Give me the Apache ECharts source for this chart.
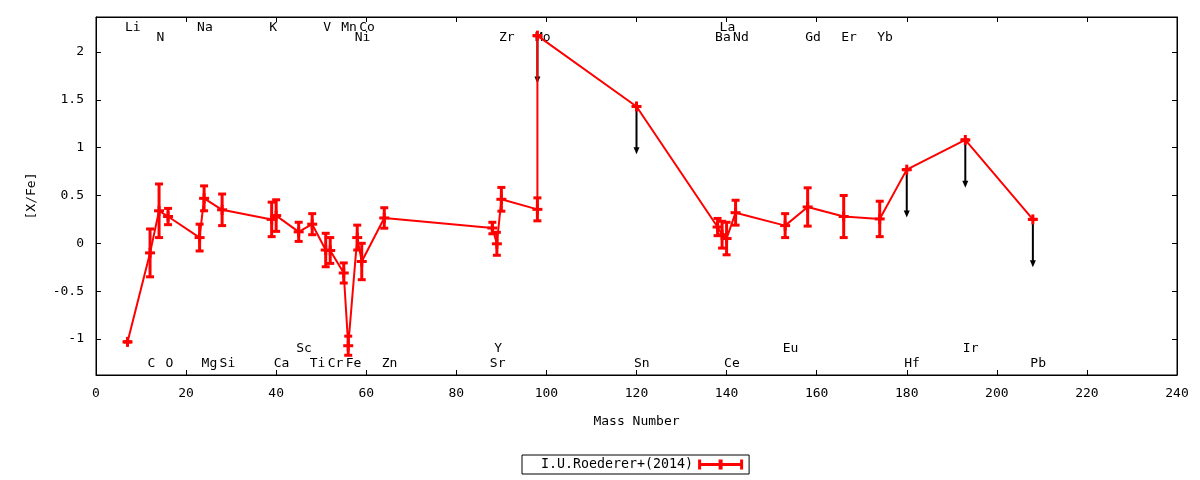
<!DOCTYPE html>
<html>
<head>
<meta charset="utf-8">
<script src="https://cdn.jsdelivr.net/npm/echarts@6/dist/echarts.min.js"></script>
<style>
    html, body { margin: 0; padding: 0; background: #fff; }
    #chart-container { width: 1200px; height: 480px; }
</style>
</head>
<body>
<div id="chart-container"></div>
<script>
// abundances in mass order, the connecting line follows this order
var elements = ['Li', 'C', 'N', 'O', 'Na', 'Mg', 'Si', 'K', 'Ca', 'Sc', 'Ti', 'V', 'Cr', 'Mn', 'Fe', 'Ni', 'Co', 'Zn',
    'Sr', 'Y', 'Zr', 'Mo', 'Mo', 'Sn', 'Ba', 'La', 'Ce', 'Nd', 'Eu', 'Gd', 'Er', 'Yb', 'Hf', 'Ir', 'Pb'];
var massNumber = [7, 12, 14, 16, 23, 24, 28, 39, 40, 45, 48, 51, 52, 55, 56, 58, 59, 64,
    88, 89, 90, 98, 98, 120, 138, 139, 140, 142, 153, 158, 166, 174, 180, 193, 208];
var xFe = [-1.03, -0.10, 0.34, 0.28, 0.06, 0.47, 0.35, 0.25, 0.29, 0.12, 0.20, -0.07, -0.075, -0.31, -1.07, 0.06, -0.19, 0.265,
    0.16, -0.005, 0.46, 0.355, 2.17, 1.43, 0.17, 0.09, 0.05, 0.32, 0.185, 0.38, 0.28, 0.255, 0.77, 1.08, 0.25];
var xFeErr = [0, 0.25, 0.28, 0.085, 0.14, 0.13, 0.165, 0.18, 0.165, 0.10, 0.11, 0.175, 0.135, 0.105, 0.10, 0.13, 0.19, 0.107,
    0.06, 0.12, 0.124, 0.12, 0, 0, 0.09, 0.14, 0.17, 0.13, 0.125, 0.20, 0.22, 0.185, 0, 0, 0];
var upperLimit = [0, 0, 0, 0, 0, 0, 0, 0, 0, 0, 0, 0, 0, 0, 0, 0, 0, 0,
    0, 0, 0, 0, 1, 1, 0, 0, 0, 0, 0, 0, 0, 0, 1, 1, 1];

// element name labels along top and bottom of the frame
var labelNames = ['Li', 'Na', 'K', 'V', 'Mn', 'Co', 'La',
    'N', 'Ni', 'Zr', 'Mo', 'Ba', 'Nd', 'Gd', 'Er', 'Yb',
    'Sc', 'Y', 'Eu', 'Ir',
    'C', 'O', 'Mg', 'Si', 'Ca', 'Ti', 'Cr', 'Fe', 'Zn', 'Sr', 'Sn', 'Ce', 'Hf', 'Pb'];
var labelMass = [7, 23, 39, 51, 55, 59, 139,
    14, 58, 90, 98, 138, 142, 158, 166, 174,
    45, 89, 153, 193,
    12, 16, 24, 28, 40, 48, 52, 56, 64, 88, 120, 140, 180, 208];
var labelRow = [0, 0, 0, 0, 0, 0, 0,
    1, 1, 1, 1, 1, 1, 1, 1, 1,
    2, 2, 2, 2,
    3, 3, 3, 3, 3, 3, 3, 3, 3, 3, 3, 3, 3, 3];

var rowY = [2.255, 2.15, -1.105, -1.257];
var arrowLen = 0.5;
var FONT = '"DejaVu Sans Mono", monospace';
var RED = '#ff0000';

var lineData = [], barData = [], ulData = [], labelData = [];
for (var i = 0; i < massNumber.length; i++) {
    lineData.push([massNumber[i], xFe[i]]);
    barData.push([massNumber[i], xFe[i], xFeErr[i]]);
    if (upperLimit[i]) ulData.push([massNumber[i], xFe[i]]);
}
for (var j = 0; j < labelNames.length; j++) {
    labelData.push([labelMass[j], rowY[labelRow[j]]]);
}

function renderBar(params, api) {
    var x = api.value(0), y = api.value(1), e = api.value(2);
    var top = api.coord([x, y + e]);
    var bot = api.coord([x, y - e]);
    var mid = api.coord([x, y]);
    var cap = 4, arm = 5;
    var st = {stroke: RED, lineWidth: 3};
    return {
        type: 'group',
        children: [
            {type: 'line', shape: {x1: top[0], y1: top[1], x2: bot[0], y2: bot[1]}, style: st},
            {type: 'line', shape: {x1: top[0] - cap, y1: top[1], x2: top[0] + cap, y2: top[1]}, style: st},
            {type: 'line', shape: {x1: bot[0] - cap, y1: bot[1], x2: bot[0] + cap, y2: bot[1]}, style: st},
            {type: 'line', shape: {x1: mid[0] - arm, y1: mid[1], x2: mid[0] + arm, y2: mid[1]}, style: st},
            {type: 'line', shape: {x1: mid[0], y1: mid[1] - arm, x2: mid[0], y2: mid[1] + arm}, style: st}
        ]
    };
}

function renderArrow(params, api) {
    var p0 = api.coord([api.value(0), api.value(1)]);
    var p1 = api.coord([api.value(0), api.value(1) - arrowLen]);
    var headL = 7, headW = 3;
    return {
        type: 'group',
        children: [
            {type: 'line', shape: {x1: p0[0], y1: p0[1], x2: p1[0], y2: p1[1] - headL + 1},
                style: {stroke: '#000', lineWidth: 2}},
            {type: 'polygon', shape: {points: [[p1[0] - headW, p1[1] - headL], [p1[0] + headW, p1[1] - headL], [p1[0], p1[1]]]},
                style: {fill: '#000'}}
        ]
    };
}

function renderLabel(params, api) {
    var p = api.coord([api.value(0), api.value(1)]);
    return {
        type: 'text',
        x: p[0] - 2.5,
        y: p[1],
        style: {
            text: labelNames[params.dataIndex],
            fill: '#000',
            fontSize: 13,
            fontFamily: FONT,
            align: 'left',
            verticalAlign: 'middle'
        }
    };
}

var yMin = -1.376, yMax = 2.365;
var tickStyle = {inside: true, length: 5, lineStyle: {color: '#000'}};
var axisLineStyle = {onZero: false, lineStyle: {color: '#000', width: 1}};

var dom = document.getElementById('chart-container');
var myChart = echarts.init(dom, null, {renderer: 'canvas'});

var option = {
    animation: false,
    textStyle: {fontFamily: FONT},
    grid: {left: 96, right: 23, top: 17, bottom: 105, show: true, borderColor: '#000', borderWidth: 1,
        outerBoundsMode: 'none'},
    legend: {
        data: ['I.U.Roederer+(2014)'],
        left: 522,
        top: 455,
        align: 'right',
        icon: 'path://M0,0h3v10h-3zM42,0h3v10h-3zM3,3.5h39v3h-39zM20.5,0h4v10h-4z',
        itemWidth: 45,
        itemHeight: 10,
        borderColor: '#000',
        borderWidth: 1,
        borderRadius: 0,
        padding: [3, 6, 3, 19],
        textStyle: {color: '#000', fontSize: 13.3, fontFamily: FONT}
    },
    xAxis: [
        {
            type: 'value', min: 0, max: 240, interval: 20,
            name: 'Mass Number', nameLocation: 'middle', nameGap: 40,
            nameTextStyle: {color: '#000', fontSize: 13, fontFamily: FONT},
            axisLine: axisLineStyle, axisTick: tickStyle,
            axisLabel: {color: '#000', fontSize: 13, fontFamily: FONT, margin: 12},
            splitLine: {show: false}
        },
        {
            type: 'value', position: 'top', min: 0, max: 240, interval: 20,
            axisLine: axisLineStyle, axisTick: tickStyle,
            axisLabel: {show: false}, splitLine: {show: false}
        }
    ],
    yAxis: [
        {
            type: 'value', min: yMin, max: yMax, splitNumber: 8,
            name: '[X/Fe]', nameLocation: 'middle', nameGap: 58, nameRotate: 90,
            nameTextStyle: {color: '#000', fontSize: 13, fontFamily: FONT},
            axisLine: axisLineStyle, axisTick: tickStyle,
            axisLabel: {color: '#000', fontSize: 13, fontFamily: FONT, margin: 12, showMinLabel: false, showMaxLabel: false},
            splitLine: {show: false}
        },
        {
            type: 'value', position: 'right', min: yMin, max: yMax, splitNumber: 8,
            axisLine: axisLineStyle, axisTick: tickStyle,
            axisLabel: {show: false}, splitLine: {show: false}
        }
    ],
    series: [
        {
            type: 'custom',
            renderItem: renderLabel,
            data: labelData,
            encode: {x: 0, y: 1},
            clip: false,
            silent: true,
            z: 1
        },
        {
            type: 'custom',
            renderItem: renderArrow,
            data: ulData,
            encode: {x: 0, y: 1},
            silent: true,
            z: 2
        },
        {
            name: 'I.U.Roederer+(2014)',
            type: 'line',
            data: lineData,
            showSymbol: false,
            symbol: 'none',
            color: RED,
            lineStyle: {color: RED, width: 2},
            z: 3
        },
        {
            type: 'custom',
            renderItem: renderBar,
            data: barData,
            encode: {x: 0, y: 1},
            silent: true,
            z: 4
        }
    ]
};

myChart.setOption(option);
window.addEventListener('resize', myChart.resize);
</script>
</body>
</html>
